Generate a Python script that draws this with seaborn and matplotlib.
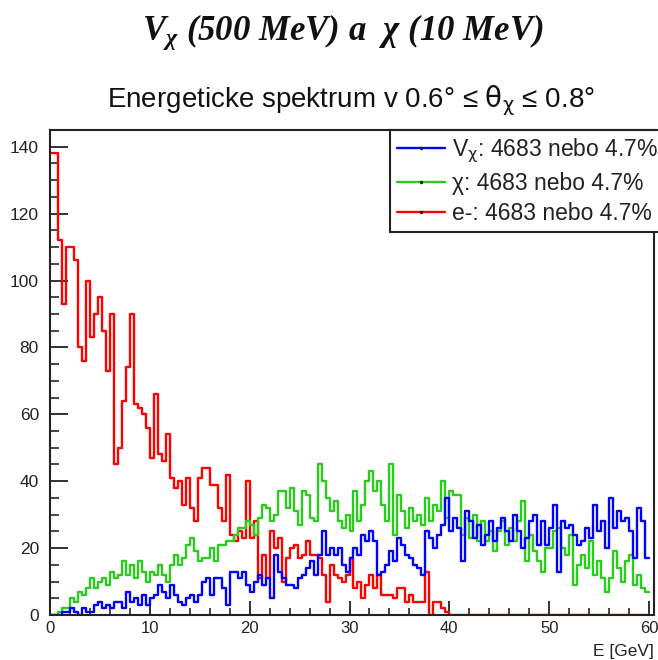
import numpy as np
import pandas as pd
import matplotlib
matplotlib.use("Agg")
import matplotlib.pyplot as plt
from matplotlib.lines import Line2D
from matplotlib.ticker import MultipleLocator
import seaborn as sns

# ---------------- data (0.4 GeV bins, 0-60 GeV) ----------------
bin_width = 0.4
n_bins = 150

v_chi = [0, 0, 0, 1, 1, 2, 1, 0, 2, 1, 1, 3, 4, 2, 3, 2, 4, 4, 2, 7,
         4, 5, 3, 6, 3, 5, 6, 9, 7, 5, 9, 6, 4, 3, 5, 6, 4, 6, 10, 11,
         6, 11, 11, 8, 3, 13, 13, 11, 13, 9, 7, 10, 12, 9, 11, 5, 18, 13, 11, 9,
         9, 8, 11, 12, 14, 16, 12, 18, 25, 18, 20, 18, 20, 15, 13, 17, 20, 18, 24, 22,
         25, 22, 12, 13, 15, 19, 16, 23, 21, 18, 17, 15, 14, 12, 25, 23, 20, 24, 27, 35,
         25, 29, 26, 16, 31, 28, 23, 27, 21, 24, 28, 22, 26, 29, 25, 22, 30, 25, 20, 23,
         28, 30, 21, 28, 21, 26, 33, 13, 28, 26, 27, 24, 21, 22, 26, 23, 33, 25, 28, 20,
         35, 26, 31, 28, 29, 25, 17, 32, 28, 17]

chi = [0, 0, 1, 2, 2, 5, 4, 7, 6, 8, 11, 8, 10, 11, 9, 13, 11, 12, 16, 12,
       15, 11, 16, 13, 10, 13, 12, 15, 12, 10, 15, 18, 15, 17, 21, 23, 19, 16, 17, 17,
       20, 16, 21, 21, 22, 22, 24, 26, 26, 28, 27, 24, 29, 33, 32, 28, 30, 37, 37, 32,
       38, 31, 27, 37, 36, 29, 28, 45, 40, 35, 31, 34, 28, 26, 30, 25, 37, 28, 33, 40,
       43, 37, 40, 33, 28, 45, 24, 36, 31, 26, 32, 28, 30, 27, 35, 28, 33, 31, 40, 29,
       37, 36, 36, 24, 29, 23, 30, 22, 28, 22, 25, 19, 25, 28, 21, 26, 22, 28, 34, 16,
       24, 19, 16, 13, 20, 20, 25, 26, 20, 18, 24, 9, 15, 18, 14, 22, 12, 16, 11, 7,
       11, 19, 14, 10, 16, 18, 9, 12, 8, 7]

electron = [138, 138, 112, 93, 110, 110, 106, 80, 76, 100, 83, 90, 95, 85, 73, 90, 45, 50, 64, 74,
            90, 63, 62, 60, 56, 47, 66, 48, 46, 54, 41, 38, 40, 33, 41, 32, 28, 41, 44, 44,
            39, 39, 32, 28, 42, 24, 22, 25, 23, 40, 23, 28, 11, 18, 11, 25, 20, 23, 10, 17,
            20, 21, 17, 18, 22, 18, 18, 17, 12, 4, 15, 12, 11, 10, 12, 17, 8, 10, 5, 9,
            12, 8, 12, 6, 6, 6, 5, 8, 8, 4, 6, 4, 4, 4, 13, 0, 4, 4, 2, 1]
electron = electron + [0] * (n_bins - len(electron))

series_names = ["V_chi", "chi", "e-"]
legend_labels = [r"V$_{\mathrm{\chi}}$: 4683 nebo 4.7%", "χ: 4683 nebo 4.7%", "e-: 4683 nebo 4.7%"]
colors = {"V_chi": "#0000ff", "chi": "#2ccc1e", "e-": "#ff0000"}

x_ticks = [0, 10, 20, 30, 40, 50, 60]
y_ticks = [0, 20, 40, 60, 80, 100, 120, 140]

# ---------------- build table ----------------
centers = (np.arange(n_bins) + 0.5) * bin_width
df = pd.concat([
    pd.DataFrame({"E": centers, "count": v_chi, "series": "V_chi"}),
    pd.DataFrame({"E": centers, "count": chi, "series": "chi"}),
    pd.DataFrame({"E": centers, "count": electron, "series": "e-"}),
], ignore_index=True)

# ---------------- figure ----------------
sns.set_style("white")
plt.rcParams["font.family"] = ["Liberation Sans", "DejaVu Sans"]
plt.rcParams["mathtext.fontset"] = "custom"
plt.rcParams["mathtext.rm"] = "Liberation Serif:bold:italic"
plt.rcParams["mathtext.it"] = "Liberation Serif:bold:italic"
plt.rcParams["mathtext.bf"] = "Liberation Serif:bold:italic"

W, H = 658, 660
fig = plt.figure(figsize=(W / 100, H / 100), dpi=100)
ax = fig.add_axes([50 / W, 1 - 615 / H, (654 - 50) / W, (615 - 130) / H])

sns.histplot(data=df, x="E", weights="count", hue="series", hue_order=series_names,
             binwidth=bin_width, binrange=(0, n_bins * bin_width), element="step",
             fill=False, palette=colors, linewidth=1.7, legend=False, ax=ax)

ax.set_xlim(0, 60.5)
ax.set_ylim(0, 145)
ax.set_xlabel("")
ax.set_ylabel("")
ax.set_xticks(x_ticks)
ax.set_yticks(y_ticks)
ax.xaxis.set_minor_locator(MultipleLocator(2))
ax.yaxis.set_minor_locator(MultipleLocator(5))
ax.tick_params(axis="x", which="major", direction="in", length=10, width=1.3,
               labelsize=12, pad=4, colors="#222222", bottom=True, top=False)
ax.tick_params(axis="x", which="minor", direction="in", length=5, width=1.2,
               bottom=True, top=False)
ax.tick_params(axis="y", which="major", direction="in", length=13, width=1.3,
               labelsize=12.5, pad=8, colors="#222222", left=True, right=False)
ax.tick_params(axis="y", which="minor", direction="in", length=6.5, width=1.2,
               left=True, right=False)
for sp in ax.spines.values():
    sp.set_visible(True)
    sp.set_color("#222222")
    sp.set_linewidth(1.5)

ax.text(1.0, -0.06, "E [GeV]", transform=ax.transAxes, ha="right", va="top",
        fontsize=12.5, color="#222222")

# titles
fig.text(343 / W, 1 - 32 / H, r"$V_{\chi}$ (500 MeV) a  $\chi$ (10 MeV)", ha="center", va="center",
         fontsize=25, fontfamily="Liberation Serif", fontweight="bold", fontstyle="italic",
         math_fontfamily="custom", color="#111111")
fig.text(351 / W, 1 - 101 / H, r"Energeticke spektrum v 0.6° ≤ $\mathrm{\theta}_{\mathrm{\chi}}$ ≤ 0.8°",
         ha="center", va="center", fontsize=20, math_fontfamily="dejavusans",
         color="#111111")

# legend
handles = [Line2D([0], [0], color=colors[s], lw=1.7, marker=".", markersize=3,
                  markerfacecolor="#222222", markeredgecolor="#222222")
           for s in series_names]
leg = ax.legend(handles, legend_labels, loc="upper left",
                bbox_to_anchor=(390 / W, 1 - 130 / H), bbox_transform=fig.transFigure,
                frameon=True, fancybox=False, framealpha=1, edgecolor="#222222",
                fontsize=16.5, handlelength=2.1, handletextpad=0.3,
                labelspacing=0.3, borderpad=0.3, borderaxespad=0)
leg.get_frame().set_linewidth(1.5)
for t in leg.get_texts():
    t.set_math_fontfamily("dejavusans")
    t.set_color("#222222")

fig.savefig("out.png", dpi=100)
